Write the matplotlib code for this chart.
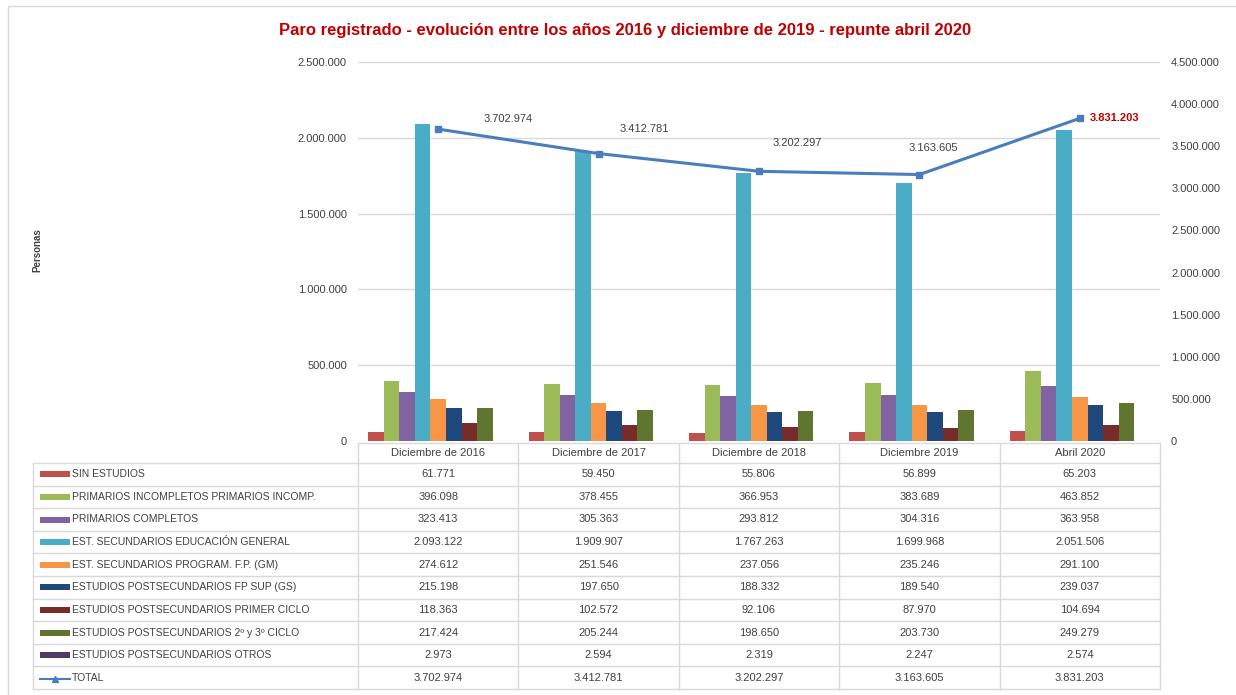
import matplotlib.pyplot as plt
import matplotlib.ticker as mticker
import numpy as np

plt.rcParams['font.family'] = ['Liberation Sans Narrow', 'Liberation Sans', 'DejaVu Sans']

# DATA
categories = ["Diciembre de 2016", "Diciembre de 2017", "Diciembre de 2018", "Diciembre 2019", "Abril 2020"]
series_names = [
    "SIN ESTUDIOS",
    "PRIMARIOS INCOMPLETOS PRIMARIOS INCOMP.",
    "PRIMARIOS COMPLETOS",
    "EST. SECUNDARIOS EDUCACIÓN GENERAL",
    "EST. SECUNDARIOS PROGRAM. F.P. (GM)",
    "ESTUDIOS POSTSECUNDARIOS FP SUP (GS)",
    "ESTUDIOS POSTSECUNDARIOS PRIMER CICLO",
    "ESTUDIOS POSTSECUNDARIOS 2º y 3º CICLO",
    "ESTUDIOS POSTSECUNDARIOS OTROS",
]
sin_estudios = [61771, 59450, 55806, 56899, 65203]
primarios_incompletos = [396098, 378455, 366953, 383689, 463852]
primarios_completos = [323413, 305363, 293812, 304316, 363958]
sec_general = [2093122, 1909907, 1767263, 1699968, 2051506]
sec_fp = [274612, 251546, 237056, 235246, 291100]
post_fp_sup = [215198, 197650, 188332, 189540, 239037]
post_primer_ciclo = [118363, 102572, 92106, 87970, 104694]
post_2_3_ciclo = [217424, 205244, 198650, 203730, 249279]
post_otros = [2973, 2594, 2319, 2247, 2574]
total = [3702974, 3412781, 3202297, 3163605, 3831203]

series_values = [sin_estudios, primarios_incompletos, primarios_completos, sec_general,
                 sec_fp, post_fp_sup, post_primer_ciclo, post_2_3_ciclo, post_otros]
colors = ["#C0504D", "#9BBB59", "#8064A2", "#4BACC6", "#F79646",
          "#1F497D", "#772C2A", "#5F7530", "#4D3B62"]
line_color = "#4A7EBB"


def fmt_es(v):
    return f"{int(v):,}".replace(",", ".")


W, H = 1236, 695
fig = plt.figure(figsize=(W / 100, H / 100), dpi=100)

# plot area in pixels
px_l, px_r, px_t, px_b = 358, 1160, 62, 441
ax = fig.add_axes([px_l / W, 1 - px_b / H, (px_r - px_l) / W, (px_b - px_t) / H])

n_cat = len(categories)
n_ser = len(series_values)
x = np.arange(n_cat) + 0.5
bw = 0.097
for i, (vals, col) in enumerate(zip(series_values, colors)):
    offs = (i - (n_ser - 1) / 2) * bw
    ax.bar(x + offs, vals, bw, color=col, zorder=3)

ax.set_xlim(0, n_cat)
ax.set_ylim(0, 2500000)
ax.set_yticks(np.arange(0, 2500001, 500000))
ax.yaxis.set_major_formatter(mticker.FuncFormatter(lambda v, p: fmt_es(v)))
ax.grid(axis='y', color='#D9D9D9', linewidth=1, zorder=0)
ax.set_xticks([])
for s in ["top", "right", "left", "bottom"]:
    ax.spines[s].set_visible(False)
ax.tick_params(axis='y', length=0, labelsize=8, labelcolor='#404040', pad=8)

ax2 = ax.twinx()
ax2.set_ylim(0, 4500000)
ax2.set_yticks(np.arange(0, 4500001, 500000))
ax2.yaxis.set_major_formatter(mticker.FuncFormatter(lambda v, p: fmt_es(v)))
ax2.tick_params(axis='y', length=0, labelsize=8, labelcolor='#404040', pad=8)
for s in ["top", "right", "left", "bottom"]:
    ax2.spines[s].set_visible(False)
ax2.plot(x, total, color=line_color, linewidth=2.2, marker='s', markersize=4, zorder=5)

# label offsets in pixels (dx right, dy up)
label_offsets = [(70, 10), (46, 25), (38, 28), (14, 27), (10, 0)]
for i, (xv, tv) in enumerate(zip(x, total)):
    dx, dy = label_offsets[i]
    last = i == n_cat - 1
    ax2.annotate(fmt_es(tv), (xv, tv), xytext=(dx * 0.72, dy * 0.72), textcoords='offset points',
                 ha='left' if last else 'center', va='center', fontsize=8,
                 color='#C00000' if last else '#404040',
                 fontweight='bold' if last else 'normal')

fig.text(37 / W, 1 - 250 / H, "Personas", rotation=90, fontsize=7, fontweight='bold',
         color='#404040', ha='center', va='center')

fig.text(625 / W, 1 - 30 / H,
         "Paro registrado - evolución entre los años 2016 y diciembre de 2019 - repunte abril 2020",
         fontsize=12, fontweight='bold', color='#C00000', ha='center', va='center')

# DATA TABLE (drawn in pixel coordinates)
tab = fig.add_axes([0, 0, 1, 1])
tab.set_xlim(0, W)
tab.set_ylim(H, 0)
tab.axis('off')
tab.patch.set_alpha(0)

grid_c = '#D9D9D9'
col_w = (px_r - px_l) / n_cat
head_t, head_b = 443, 463
row_h = 22.6
n_rows = n_ser + 1
tab_l = 33
tab_bot = head_b + n_rows * row_h

# header
for j, cat in enumerate(categories):
    cx = px_l + (j + 0.5) * col_w
    tab.text(cx, (head_t + head_b) / 2, cat, ha='center', va='center', fontsize=8, color='#404040')
tab.plot([px_l, px_r], [head_t, head_t], color=grid_c, lw=1)
for j in range(n_cat + 1):
    xx = px_l + j * col_w
    tab.plot([xx, xx], [head_t, tab_bot], color=grid_c, lw=1)
tab.plot([tab_l, tab_l], [head_b, tab_bot], color=grid_c, lw=1)
for r in range(n_rows + 1):
    yy = head_b + r * row_h
    tab.plot([tab_l, px_r], [yy, yy], color=grid_c, lw=1)

row_names = series_names + ["TOTAL"]
row_values = series_values + [total]
for r, (name, vals) in enumerate(zip(row_names, row_values)):
    cy = head_b + (r + 0.5) * row_h
    if r < n_ser:
        tab.add_patch(plt.Rectangle((40, cy - 3), 30, 6, color=colors[r], lw=0))
    else:
        tab.plot([40, 70], [cy + 1, cy + 1], color=line_color, lw=1.5)
        tab.plot([55], [cy + 1], marker='^', color=line_color, markersize=4)
    tab.text(72, cy, name, ha='left', va='center', fontsize=7.5, color='#404040')
    for j, v in enumerate(vals):
        cx = px_l + (j + 0.5) * col_w
        tab.text(cx, cy, fmt_es(v), ha='center', va='center', fontsize=8, color='#404040')

# outer chart frame
tab.plot([8, 8, W + 5], [H + 5, 6, 6], color='#D9D9D9', lw=1)

fig.savefig("out.png", dpi=100)
